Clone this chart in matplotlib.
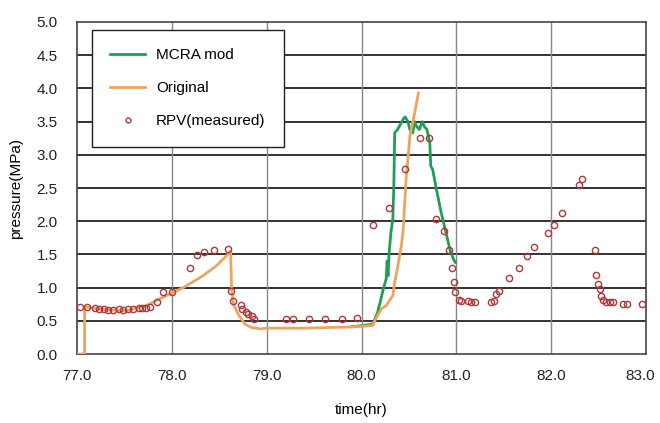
import matplotlib
matplotlib.use("Agg")
import matplotlib.pyplot as plt
from matplotlib.transforms import ScaledTranslation

# RPV measured
rpv_t = [77.03, 77.11, 77.19, 77.23, 77.28, 77.33, 77.38, 77.44, 77.49, 77.54, 77.59, 77.65,
         77.69, 77.73, 77.77, 77.84, 77.91, 78.00, 78.19, 78.27, 78.34, 78.44, 78.59,
         78.62, 78.65, 78.73, 78.74, 78.78, 78.80, 78.84, 78.87,
         79.20, 79.28, 79.45, 79.62, 79.79, 79.95,
         80.12, 80.29, 80.46, 80.62, 80.71, 80.79, 80.87, 80.92, 80.95, 80.97, 80.99,
         81.03, 81.05, 81.12, 81.15, 81.20, 81.37, 81.40, 81.42, 81.45, 81.55, 81.66,
         81.75, 81.82, 81.97, 82.03, 82.11, 82.29, 82.33, 82.46, 82.47, 82.49, 82.51,
         82.53, 82.55, 82.58, 82.62, 82.65, 82.76, 82.80, 82.96]
rpv_p = [0.71, 0.71, 0.69, 0.68, 0.68, 0.67, 0.67, 0.68, 0.67, 0.68, 0.68, 0.69,
         0.69, 0.70, 0.71, 0.79, 0.94, 0.94, 1.29, 1.49, 1.54, 1.56, 1.58,
         0.95, 0.80, 0.74, 0.68, 0.64, 0.60, 0.57, 0.53,
         0.53, 0.53, 0.53, 0.53, 0.53, 0.55,
         1.94, 2.20, 2.78, 3.26, 3.26, 2.04, 1.85, 1.57, 1.29, 1.09, 0.94,
         0.82, 0.80, 0.80, 0.78, 0.78, 0.78, 0.80, 0.91, 0.95, 1.15, 1.29,
         1.47, 1.61, 1.83, 1.94, 2.12, 2.54, 2.64, 1.56, 1.19, 1.05, 0.98,
         0.87, 0.81, 0.79, 0.78, 0.78, 0.76, 0.76, 0.76]

# Original
orig_t = [77.00, 77.08, 77.08, 77.30, 77.52, 77.73, 77.87, 78.12, 78.33, 78.47, 78.59, 78.62,
          78.63, 78.65, 78.70, 78.77, 78.84, 78.93, 79.00, 79.42, 79.91, 80.12, 80.15,
          80.21, 80.26, 80.33, 80.35, 80.38, 80.42, 80.44, 80.47, 80.51, 80.56, 80.60]
orig_p = [0.00, 0.00, 0.71, 0.67, 0.65, 0.73, 0.83, 1.00, 1.18, 1.33, 1.50, 1.55,
          0.98, 0.75, 0.60, 0.45, 0.40, 0.38, 0.39, 0.39, 0.41, 0.43, 0.53,
          0.68, 0.73, 0.88, 1.08, 1.30, 1.63, 1.88, 2.63, 3.28, 3.63, 3.93]

# MCRA mod
mcra_t = [79.90, 80.12, 80.17, 80.20, 80.23, 80.26, 80.27, 80.28, 80.29, 80.31, 80.33, 80.34,
          80.35, 80.38, 80.41, 80.44, 80.46, 80.49, 80.51, 80.54, 80.56, 80.58, 80.61,
          80.64, 80.66, 80.69, 80.72, 80.73, 80.75, 80.79, 80.84, 80.89, 80.94, 80.98, 80.99]
mcra_p = [0.41, 0.45, 0.63, 0.80, 0.98, 1.13, 1.40, 1.18, 1.50, 1.83, 2.03, 2.48,
          3.33, 3.38, 3.46, 3.54, 3.57, 3.50, 3.38, 3.33, 3.50, 3.43, 3.38,
          3.50, 3.43, 3.38, 3.18, 2.83, 2.78, 2.48, 2.13, 1.83, 1.53, 1.40, 1.38]

x_ticks = [77.0, 78.0, 79.0, 80.0, 81.0, 82.0, 83.0]
y_ticks = [0.0, 0.5, 1.0, 1.5, 2.0, 2.5, 3.0, 3.5, 4.0, 4.5, 5.0]

plt.rcParams['font.family'] = ['Liberation Sans', 'DejaVu Sans']
fig = plt.figure(figsize=(6.6, 4.23), dpi=100)
ax = fig.add_axes([0.1167, 0.163, 0.8621, 0.785])

ax.plot(mcra_t, mcra_p, color='#1f9e55', lw=2.0, label='MCRA mod', zorder=3)
ax.plot(orig_t, orig_p, color='#eba55e', lw=2.0, label='Original', zorder=4)
ax.plot(rpv_t, rpv_p, ls='none', marker='o', ms=4.5, mfc='none', mec='#b0363a',
        mew=1.0, label='RPV(measured)', zorder=5)

ax.set_xlim(77, 83)
ax.set_ylim(0, 5)
ax.set_xticks(x_ticks)
ax.set_xticklabels([f"{v:.1f}" for v in x_ticks])
ax.set_yticks(y_ticks)
ax.set_yticklabels([f"{v:.1f}" for v in y_ticks])
ax.tick_params(labelsize=11, colors='#222222', length=0)
ax.tick_params(axis='y', pad=14)
ax.tick_params(axis='x', pad=11)
last = ax.get_xticklabels()[-1]
last.set_transform(last.get_transform() + ScaledTranslation(-4 / 72, 0, fig.dpi_scale_trans))

for y in y_ticks[1:-1]:
    ax.axhline(y, color='#222222', lw=1.3, zorder=1)
for x in x_ticks[1:-1]:
    ax.axvline(x, color='#888888', lw=1.0, zorder=1)
for s in ax.spines.values():
    s.set_color('#444444')
    s.set_linewidth(1.2)

ax.set_xlabel('time(hr)', fontsize=11, labelpad=14)
ax.set_ylabel('pressure(MPa)', fontsize=11, labelpad=10)

leg = ax.legend(loc='upper left', bbox_to_anchor=(0.026, 0.976), fontsize=11,
                fancybox=False, framealpha=1, edgecolor='#222222', borderpad=1.2,
                labelspacing=1.25, handlelength=2.3, handletextpad=0.7, borderaxespad=0)
leg.get_frame().set_linewidth(1.0)
leg.legend_handles[2].set_markersize(3.5)

fig.savefig('out.png', dpi=100)
